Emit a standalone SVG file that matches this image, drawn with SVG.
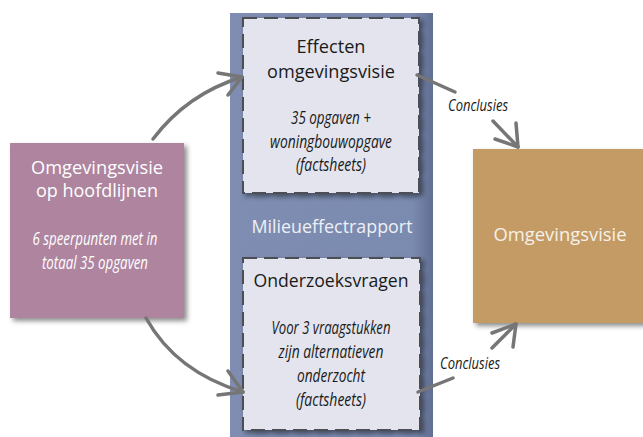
<svg xmlns="http://www.w3.org/2000/svg" width="643" height="437" viewBox="0 0 643 437">
<defs>
<filter id="sh" x="-10%" y="-10%" width="130%" height="130%">
<feDropShadow dx="3" dy="3" stdDeviation="2.5" flood-color="#000" flood-opacity="0.45"/>
</filter>
<linearGradient id="colg" x1="0" x2="1" y1="0" y2="0">
<stop offset="0" stop-color="#7e8db1"/>
<stop offset="0.9" stop-color="#7b8aaf"/>
<stop offset="1" stop-color="#606e92"/>
</linearGradient>
</defs>
<style>
.t{font-family:"Open Sans","Noto Sans",sans-serif;text-anchor:middle}
.i{font-family:"Open Sans","Noto Sans",sans-serif;font-style:italic;text-anchor:middle}
.w{fill:#ffffff}
.k{fill:#1a1a1a}
.dash{fill:#e3e4ed;stroke:#4d4d55;stroke-width:2;stroke-dasharray:14 7}
.c{fill:none;stroke:#767676;stroke-width:3.5;stroke-linecap:round;stroke-linejoin:round}
</style>
<rect width="643" height="437" fill="#ffffff"/>
<g id="mer">
<rect x="230" y="13" width="203" height="430" fill="url(#colg)"/>
<text class="t" x="332" y="233" font-size="18.5" fill="#eef0f6" textLength="161" lengthAdjust="spacingAndGlyphs">Milieueffectrapport</text>
</g>
<g id="hoofdlijnen">
<rect x="10" y="143" width="174" height="175" fill="#ae849f" filter="url(#sh)"/>
<text class="t w" x="97" y="174" font-size="17.5" textLength="132" lengthAdjust="spacingAndGlyphs">Omgevingsvisie</text>
<text class="t w" x="97" y="197" font-size="17.5" textLength="122" lengthAdjust="spacingAndGlyphs">op hoofdlijnen</text>
<text class="i w" x="95" y="245" font-size="17.5" textLength="125" lengthAdjust="spacingAndGlyphs">6 speerpunten met in</text>
<text class="i w" x="95" y="269" font-size="17.5" textLength="106" lengthAdjust="spacingAndGlyphs">totaal 35 opgaven</text>
</g>
<g id="effecten">
<rect class="dash" x="243" y="18" width="176" height="175" filter="url(#sh)"/>
<text class="t k" x="331" y="53" font-size="19" textLength="69" lengthAdjust="spacingAndGlyphs">Effecten</text>
<text class="t k" x="331" y="78" font-size="19" textLength="128" lengthAdjust="spacingAndGlyphs">omgevingsvisie</text>
<text class="i k" x="331" y="124" font-size="17.5" textLength="80" lengthAdjust="spacingAndGlyphs">35 opgaven +</text>
<text class="i k" x="331" y="148" font-size="17.5" textLength="122" lengthAdjust="spacingAndGlyphs">woningbouwopgave</text>
<text class="i k" x="331" y="171" font-size="17.5" textLength="70" lengthAdjust="spacingAndGlyphs">(factsheets)</text>
</g>
<g id="onderzoeksvragen">
<rect class="dash" x="243" y="258" width="177" height="172" filter="url(#sh)"/>
<text class="t k" x="331" y="287" font-size="19" textLength="155" lengthAdjust="spacingAndGlyphs">Onderzoeksvragen</text>
<text class="i k" x="331" y="334" font-size="17.5" textLength="119" lengthAdjust="spacingAndGlyphs">Voor 3 vraagstukken</text>
<text class="i k" x="331" y="358" font-size="17.5" textLength="105" lengthAdjust="spacingAndGlyphs">zijn alternatieven</text>
<text class="i k" x="331" y="382" font-size="17.5" textLength="68" lengthAdjust="spacingAndGlyphs">onderzocht</text>
<text class="i k" x="331" y="406" font-size="17.5" textLength="70" lengthAdjust="spacingAndGlyphs">(factsheets)</text>
</g>
<g id="omgevingsvisie">
<rect x="473" y="149" width="175" height="174" fill="#c49b65" filter="url(#sh)"/>
<text class="t" x="560" y="241" font-size="19" fill="#f5f1ea" textLength="133" lengthAdjust="spacingAndGlyphs">Omgevingsvisie</text>
</g>
<g id="connectors">
<path class="c" d="M153,139 Q187,94 242,77"/>
<path class="c" d="M218,73 L242,77 L228,95"/>
<path class="c" d="M146,318 Q176,372 243,392"/>
<path class="c" d="M228,371 L243,392 L218,395"/>
<path class="c" d="M417,75 L455,92"/>
<path class="c" d="M493,121 L518,147"/>
<path class="c" d="M516,123 L518,147 L495,139"/>
<path class="c" d="M418,392 L453,378"/>
<path class="c" d="M492,348 L516,324"/>
<path class="c" d="M492,333 L516,324 L513,347"/>
<text class="i k" x="478" y="111" font-size="17" textLength="60" lengthAdjust="spacingAndGlyphs">Conclusies</text>
<text class="i k" x="470" y="369" font-size="17" textLength="60" lengthAdjust="spacingAndGlyphs">Conclusies</text>
</g>
</svg>
